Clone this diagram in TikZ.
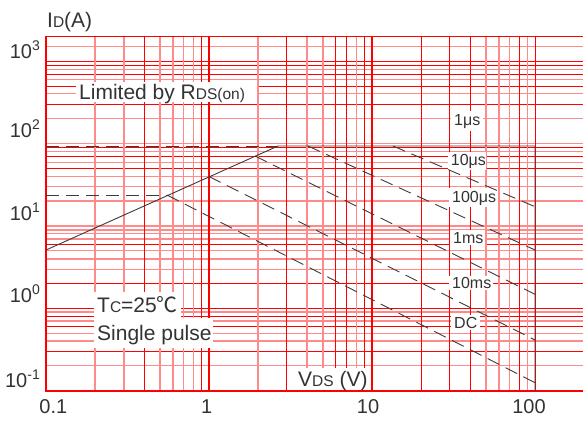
\documentclass[tikz,border=0pt]{standalone}
\usepackage{fontspec}
\setmainfont{Liberation Sans}
\newfontfamily\cjkfont{Noto Sans CJK SC}
\definecolor{txt}{HTML}{333333}
\definecolor{gdark}{HTML}{FF0000}
\definecolor{glight}{HTML}{FF8A8A}
\definecolor{crv}{HTML}{3C3C3C}
\newcommand{\smc}[1]{{\fontsize{15.5}{15.5}\selectfont #1}}
\newcommand{\expo}[1]{\raisebox{8pt}{\fontsize{14}{14}\selectfont #1}}
\begin{document}
\begin{tikzpicture}[x=1pt,y=-1pt,
  gd/.style={draw=gdark,line width=1pt},
  gl/.style={draw=glight,line width=1.4pt},
  gthick/.style={draw=gdark,line width=2pt},
  crvsolid/.style={draw=crv,line width=0.9pt},
  crvdash/.style={draw=crv,line width=0.9pt,dash pattern=on 13pt off 7pt},
  mask/.style={fill=white},
  lbl/.style={text=txt,font=\fontsize{21}{21}\selectfont,inner sep=0pt},
  ticklbl/.style={text=txt,font=\fontsize{20}{20}\selectfont,inner sep=0pt},
  clbl/.style={text=txt,font=\fontsize{16}{16}\selectfont,inner sep=0pt}]
\useasboundingbox (0,0) rectangle (583,421);
% horizontal grid lines
\foreach \y in {69.3,79.7,93.7,118.7,143.3,151.7,162.3,176.3,186.7,201,226,230,233.7,239,250.7,259,269.3,312,321,333.3,341,365.7,46.7}
  \draw[gl] (46,\y) -- (583,\y);
\foreach \y in {61.7,65,74,86.3,104,147,156.7,168.3,244,283.3,308.3,316.7,326.7,351.3}
  \draw[gd] (46,\y) -- (583,\y);
% vertical grid lines
\foreach \x in {95.1,123.8,159.9,172.8,183.7,193.2,258.1,307.1,322.9,356.2,485.9,498.8,509.7,527.5}
  \draw[gl] (\x,36) -- (\x,391);
\foreach \x in {144.1,201.5,286.8,335.8,346.7,364.5,421.1,449.8,470.1,519.2,535}
  \draw[gd] (\x,36) -- (\x,391);
\draw[gthick] (209,36) -- (209,391);
\draw[gthick] (372,36) -- (372,391);
% frame
\draw[gd] (46,36.3) -- (583,36.3);
\draw[gthick] (46,391) -- (583,391);
\draw[gthick] (46,36) -- (46,392);
% label masks
\fill[mask] (76,82) rectangle (257,102);
\fill[mask] (94,292) rectangle (181,318);
\fill[mask] (94,318) rectangle (213,348);
\fill[mask] (451,111) rectangle (483,131);
\fill[mask] (448,152) rectangle (486,170);
\fill[mask] (449,188) rectangle (498,207);
\fill[mask] (450,230) rectangle (485,244.5);
\fill[mask] (449,275.5) rectangle (493,289.5);
\fill[mask] (451,315) rectangle (480,330);
\fill[mask] (295,368) rectangle (370,390);
% SOA curves
\draw[crvsolid] (46,250) -- (278,146) -- (535,146) -- (535,391);
\draw[crvdash] (46,146) -- (278,146);
\draw[crvdash] (46,195) -- (167,195);
\draw[crvdash] (393,146) -- (535,206.7);
\draw[crvdash] (308,146) -- (535,250);
\draw[crvdash] (255,156) -- (535,294.3);
\draw[crvdash] (209,176.5) -- (535,340);
\draw[crvdash] (167,195) -- (535,382.7);
% axis titles
\node[lbl,anchor=base west] (ylab) at (47,27) {I\smc{D}(A)};
\node[lbl,anchor=base west] (xlab) at (298,386) {V\smc{DS} (V)};
% y ticks
\node[ticklbl,anchor=base east] (y3) at (40,58) {10\expo{3}};
\node[ticklbl,anchor=base east] (y2) at (40,137) {10\expo{2}};
\node[ticklbl,anchor=base east] (y1) at (40,220) {10\expo{1}};
\node[ticklbl,anchor=base east] (y0) at (40,302) {10\expo{0}};
\node[ticklbl,anchor=base east] (ym1) at (40,387) {10\expo{-1}};
% x ticks
\node[ticklbl,anchor=base] (x01) at (53.3,413) {0.1};
\node[ticklbl,anchor=base] (x1) at (206.7,413) {1};
\node[ticklbl,anchor=base] (x10) at (368,413) {10};
\node[ticklbl,anchor=base] (x100) at (529,413) {100};
% annotations
\node[lbl,anchor=base west] (rds) at (79,99) {Limited by R\smc{DS(on)}};
\node[lbl,anchor=base west] (tc) at (97,312.5) {T\smc{C}=25{\cjkfont ℃}};
\node[lbl,anchor=base west] (sp) at (97,340) {Single pulse};
\node[clbl,anchor=base west] (l1us) at (454,125) {1μs};
\node[clbl,anchor=base west] (l10us) at (450.7,165) {10μs};
\node[clbl,anchor=base west] (l100us) at (452,202) {100μs};
\node[clbl,anchor=base west] (l1ms) at (453,243) {1ms};
\node[clbl,anchor=base west] (l10ms) at (452,288) {10ms};
\node[clbl,anchor=base west] (ldc) at (454,328) {DC};
\end{tikzpicture}
\end{document}
